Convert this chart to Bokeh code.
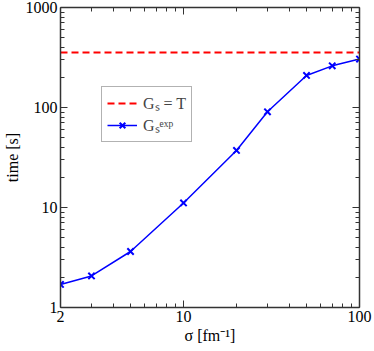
from bokeh.plotting import figure
from bokeh.models import (LogAxis, FixedTicker, PrintfTickFormatter, CustomJSTickFormatter,
                          Legend, LegendItem, Range1d)
from bokeh.embed import file_html
from bokeh.resources import INLINE

# data
sigma = [2, 3, 5, 10, 20, 30, 50, 70, 100]
time_exp = [1.7, 2.07, 3.63, 11.1, 37.2, 90.6, 209, 261, 305]
time_T = 355
x_ticks = [2, 10, 100]
x_minor = [3, 4, 5, 6, 7, 8, 9, 20, 30, 40, 50, 60, 70, 80, 90]
y_ticks = [1, 10, 100, 1000]
y_minor = [m * d for d in (1, 10, 100) for m in range(2, 10)]

FONT = "Liberation Serif"
AX = "#333333"

p = figure(width=374, height=351, x_axis_type="log", y_axis_type="log",
           x_range=Range1d(2, 100), y_range=Range1d(1, 1000),
           output_backend="svg", toolbar_location=None,
           min_border_left=60, min_border_right=15, min_border_top=7, min_border_bottom=44)
p.grid.visible = False
p.outline_line_color = None
p.background_fill_color = "white"
p.border_fill_color = "white"

xt = FixedTicker(ticks=x_ticks, minor_ticks=x_minor)
yt = FixedTicker(ticks=y_ticks, minor_ticks=y_minor)

def style(ax, ticker, labels=True):
    ax.ticker = ticker
    ax.axis_line_color = AX
    ax.axis_line_width = 1.5
    ax.major_tick_line_color = AX
    ax.minor_tick_line_color = AX
    ax.major_tick_in = 7
    ax.major_tick_out = 0
    ax.minor_tick_in = 4
    ax.minor_tick_out = 0
    ax.major_tick_line_width = 1
    ax.minor_tick_line_width = 1
    ax.major_label_text_font = FONT
    ax.major_label_text_font_size = "16px"
    ax.major_label_text_color = "black"
    ax.axis_label_text_font = FONT
    ax.axis_label_text_font_size = "16px"
    ax.axis_label_text_font_style = "normal"
    ax.axis_label_text_color = "black"
    if labels:
        ax.formatter = PrintfTickFormatter(format="%d")
        ax.major_label_standoff = 3
        ax.axis_label_standoff = 2
    else:
        ax.formatter = CustomJSTickFormatter(code="return ''")
        ax.major_label_standoff = 0
        ax.major_label_text_font_size = "0px"

style(p.xaxis[0], xt)
style(p.yaxis[0], yt)
p.xaxis[0].axis_label = "σ [fm⁻¹]"
p.yaxis[0].axis_label = "time [s]"

top = LogAxis()
right = LogAxis()
style(top, xt, labels=False)
style(right, yt, labels=False)
p.add_layout(top, "above")
p.add_layout(right, "right")

r_T = p.line([sigma[0], sigma[-1]], [time_T, time_T], line_color="#ff0000",
             line_width=2, line_dash="7 4")
r_l = p.line(sigma, time_exp, line_color="#0000ff", line_width=1.5)
r_m = p.scatter(sigma, time_exp, marker="x", size=9, line_color="#0000ff", line_width=2)

legend = Legend(items=[LegendItem(label="Gₛ = T", renderers=[r_T]),
                       LegendItem(label="Gₛᵉˣᵖ", renderers=[r_l, r_m])],
                location=(41, 165))
legend.label_text_font = FONT
legend.label_text_font_size = "16px"
legend.glyph_width = 30
legend.glyph_height = 20
legend.label_height = 20
legend.label_standoff = 6
legend.padding = 5
legend.spacing = 0
legend.margin = 0
legend.border_line_color = "#666666"
legend.border_line_width = 1.5
legend.background_fill_alpha = 1
p.add_layout(legend, "center")

open("out.html", "w").write(file_html(p, INLINE))
